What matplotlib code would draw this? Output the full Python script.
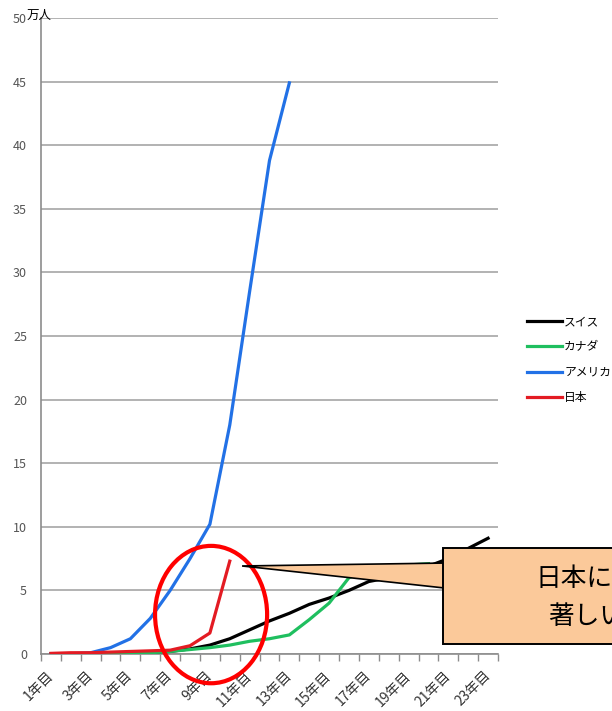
import numpy as np
import matplotlib
matplotlib.use("Agg")
from matplotlib import pyplot as plt
from matplotlib.patches import Ellipse, Polygon, Rectangle

plt.rcParams['font.family'] = ['Noto Sans CJK JP', 'DejaVu Sans']

# data (万人)
days = ["%d年目" % i for i in range(1, 24)]
swiss = [0, 0, 0, 0.05, 0.1, 0.15, 0.2, 0.4, 0.7, 1.2, 1.9, 2.6, 3.2, 3.9, 4.4,
         5.0, 5.7, 6.0, 6.4, 6.9, 7.5, 8.3, 9.1]
canada = [0, 0, 0, 0, 0.05, 0.1, 0.2, 0.35, 0.5, 0.7, 1.0, 1.2, 1.5, 2.7, 4.0,
          6.0, 6.6, 6.8, 7.0, 7.1]
usa = [0, 0.02, 0.1, 0.5, 1.2, 2.8, 5.0, 7.5, 10.2, 18.0, 28.5, 38.8, 44.9]
japan = [0.05, 0.1, 0.1, 0.15, 0.2, 0.25, 0.3, 0.65, 1.65, 7.3]

series = [("スイス", swiss, "#000000"),
          ("カナダ", canada, "#1fbf5f"),
          ("アメリカ", usa, "#2271e6"),
          ("日本", japan, "#e31b23")]

fig = plt.figure(figsize=(6.12, 7.11), dpi=100)
ax = fig.add_axes([41 / 612, 1 - 654 / 711, 457 / 612, 636 / 711])

x = np.arange(1, len(days) + 1)
for name, vals, col in series:
    ax.plot(x[:len(vals)], vals, color=col, lw=2.3, label=name,
            solid_joinstyle='round', zorder=3)

ax.set_xlim(0.5, len(days) + 0.5)
ax.set_ylim(0, 50)
ax.set_yticks(np.arange(0, 51, 5))
ax.yaxis.grid(True, color='#a6a6a6', lw=1.2)
ax.set_axisbelow(True)
ax.tick_params(axis='y', length=0, pad=10, labelsize=9, labelcolor='#555555')

ax.set_xticks(x[::2])
ax.set_xticklabels(days[::2], rotation=45, ha='right', va='center',
                   rotation_mode='anchor')
ax.set_xticks(np.arange(0.5, len(days) + 1, 1), minor=True)
ax.tick_params(axis='x', which='major', length=0, pad=14, labelsize=10,
               labelcolor='#333333')
ax.tick_params(axis='x', which='minor', length=5, color='#8c8c8c', width=1)

for s in ['top', 'right']:
    ax.spines[s].set_visible(False)
for s in ['left', 'bottom']:
    ax.spines[s].set_color('#8c8c8c')
    ax.spines[s].set_linewidth(1.2)

fig.text(27 / 612, 1 - 15 / 711, "万人", fontsize=9, va='center', ha='left')

ax.legend(loc='upper left', bbox_to_anchor=(527 / 612, 1 - 315 / 711),
          bbox_transform=fig.transFigure, frameon=False, fontsize=8.5,
          handlelength=3.0, handletextpad=0.15, borderpad=0,
          borderaxespad=0, labelspacing=1.05)

# red circle around Japan
ax.add_patch(Ellipse((9.06, 3.1), 5.64, 10.8, fill=False, ec='#ff0000',
                     lw=3, clip_on=False, zorder=5))

# callout (runs off the right edge, as in the original)
ax.add_patch(Polygon([(10.62, 6.92), (20.8, 7.15), (20.8, 5.19)],
                     closed=True, fc='#fbc99a', ec='black', lw=1.2,
                     clip_on=False, zorder=6))
ax.add_patch(Rectangle((20.73, 0.79), 10, 7.54, fc='#fbc99a', ec='black',
                       lw=1.4, clip_on=False, zorder=7))
fig.text(535 / 612, 1 - 580 / 711, "日本における増加が", fontsize=18.5,
         va='center', ha='left', zorder=8)
fig.text(548 / 612, 1 - 618 / 711, "著しい状況です", fontsize=18.5,
         va='center', ha='left', zorder=8)

fig.savefig("out.png", dpi=100)
